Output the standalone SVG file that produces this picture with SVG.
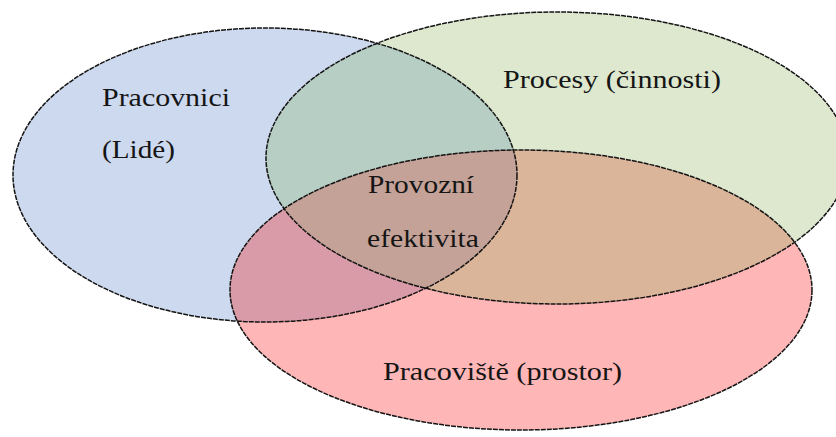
<svg xmlns="http://www.w3.org/2000/svg" xmlns:xlink="http://www.w3.org/1999/xlink" width="836" height="437" viewBox="0 0 836 437">
  <style>
    .outline { fill: none; stroke: #141414; stroke-width: 1.5; stroke-dasharray: 5 1; }
    .label { font-family: "Liberation Serif", "Times New Roman", serif; font-size: 25px; fill: #151515; }
  </style>
  <defs>
    <ellipse id="shape-people" cx="265" cy="175" rx="252" ry="147"/>
    <ellipse id="shape-processes" cx="557" cy="158" rx="291" ry="146"/>
    <ellipse id="shape-workplace" cx="521" cy="290" rx="291" ry="140"/>
    <clipPath id="clip-people"><use xlink:href="#shape-people"/></clipPath>
    <clipPath id="clip-processes"><use xlink:href="#shape-processes"/></clipPath>
  </defs>

  <rect width="836" height="437" fill="#ffffff"/>

  <!-- base fills of the three sets -->
  <g id="fills">
    <use xlink:href="#shape-people" fill="#cdd9ee"/>
    <use xlink:href="#shape-processes" fill="#dde8cf"/>
    <use xlink:href="#shape-workplace" fill="#ffb6b6"/>
  </g>

  <!-- pairwise and triple overlaps -->
  <g id="overlaps">
    <use xlink:href="#shape-processes" fill="#b6cec4" clip-path="url(#clip-people)"/>
    <use xlink:href="#shape-workplace" fill="#da9ba8" clip-path="url(#clip-people)"/>
    <use xlink:href="#shape-workplace" fill="#dbb59a" clip-path="url(#clip-processes)"/>
    <g clip-path="url(#clip-people)">
      <use xlink:href="#shape-workplace" fill="#c4a297" clip-path="url(#clip-processes)"/>
    </g>
  </g>

  <g id="node-people">
    <use xlink:href="#shape-people" class="outline"/>
    <text class="label" x="102" y="106" textLength="128" lengthAdjust="spacingAndGlyphs">Pracovnici</text>
    <text class="label" x="102" y="158" textLength="73" lengthAdjust="spacingAndGlyphs">(Lidé)</text>
  </g>

  <g id="node-processes">
    <use xlink:href="#shape-processes" class="outline"/>
    <text class="label" x="503" y="88" textLength="218" lengthAdjust="spacingAndGlyphs">Procesy (činnosti)</text>
  </g>

  <g id="node-workplace">
    <use xlink:href="#shape-workplace" class="outline"/>
    <text class="label" x="383" y="380" textLength="239" lengthAdjust="spacingAndGlyphs">Pracoviště (prostor)</text>
  </g>

  <g id="node-efficiency">
    <text class="label" x="368" y="193" textLength="106" lengthAdjust="spacingAndGlyphs">Provozní</text>
    <text class="label" x="367" y="247" textLength="112" lengthAdjust="spacingAndGlyphs">efektivita</text>
  </g>
</svg>
